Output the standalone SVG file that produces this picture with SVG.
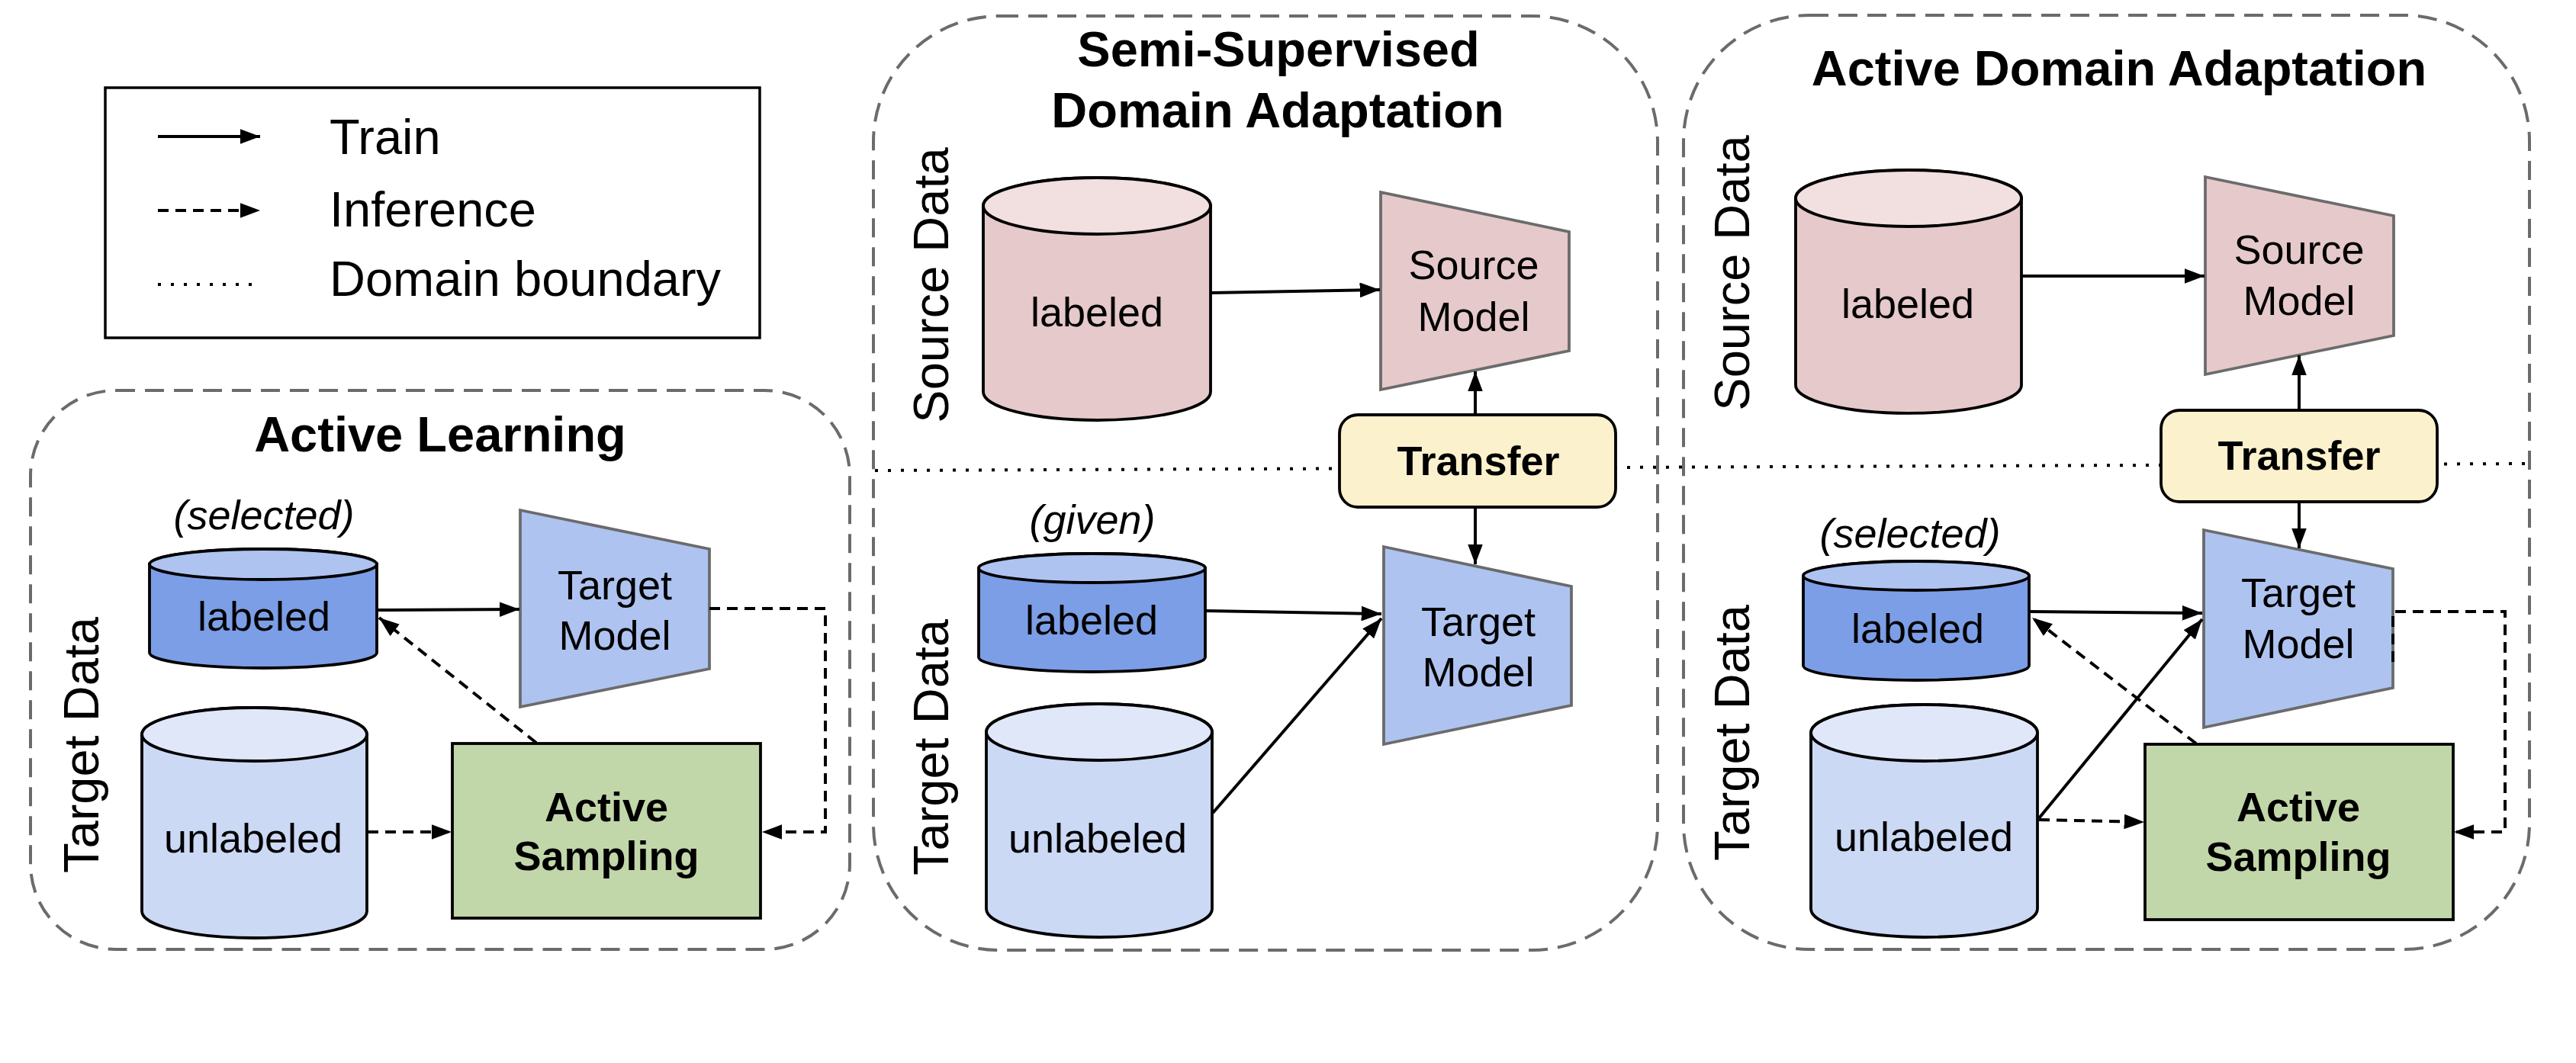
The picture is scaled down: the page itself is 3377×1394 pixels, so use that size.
<svg xmlns="http://www.w3.org/2000/svg" width="3377" height="1394" viewBox="0 0 3377 1394">
<defs>
<marker id="ah" viewBox="0 0 8 6" refX="8" refY="3" markerWidth="6.6" markerHeight="4.95" orient="auto" markerUnits="strokeWidth">
<path d="M0,0 L8,3 L0,6 z" fill="#000"/>
</marker>
</defs>
<style>
text{font-family:"Liberation Sans",Arial,sans-serif;fill:#000}
.t{font-size:54px;text-anchor:middle}
.b{font-size:54px;font-weight:bold;text-anchor:middle}
.i{font-size:54px;font-style:italic;text-anchor:middle}
.h{font-size:65px;font-weight:bold;text-anchor:middle}
.v{font-size:65px;text-anchor:middle}
.lg{font-size:65px}
.grp{fill:none;stroke:#6b6b6b;stroke-width:4;stroke-dasharray:25 13}
.cyl{stroke:#000;stroke-width:3.8}
.trap{stroke:#6b6b6b;stroke-width:3.8}
.box{stroke:#000;stroke-width:3.8}
.solid{fill:none;stroke:#000;stroke-width:4;marker-end:url(#ah)}
.dash{fill:none;stroke:#000;stroke-width:4;stroke-dasharray:14 9;marker-end:url(#ah)}
.dot{fill:none;stroke:#000;stroke-width:4;stroke-dasharray:4 13}
.srcB{fill:#e6c9ca}.srcT{fill:#f2dfe0}
.labB{fill:#7c9ee6}.labT{fill:#aec3f0}
.unlB{fill:#cbd9f5}.unlT{fill:#e0e7f8}
.tm{fill:#aec3f0}.sm{fill:#e6c9ca}
.as{fill:#c2d7a9}.tr{fill:#fcf1cd}
</style>

<g id="legend">
<rect x="138" y="115" width="858" height="328" fill="#fff" stroke="#000" stroke-width="3.5"/>
<line x1="207" y1="179" x2="341" y2="179" class="solid"/>
<line x1="207" y1="276" x2="341" y2="276" class="dash"/>
<line x1="207" y1="373" x2="330" y2="373" class="dot"/>
<text x="432" y="202" class="lg">Train</text>
<text x="432" y="297" class="lg">Inference</text>
<text x="432" y="388" class="lg">Domain boundary</text>
</g>

<g id="group-active-learning">
<rect x="40" y="512" width="1074" height="733" rx="112" ry="112" class="grp"/>
<text x="577" y="592" class="h">Active Learning</text>
<text transform="translate(129,977) rotate(-90)" class="v">Target Data</text>
</g>
<g id="group-ssda">
<rect x="1145" y="21" width="1028" height="1225" rx="165" ry="165" class="grp"/>
<text x="1676" y="87" class="h">Semi-Supervised</text>
<text x="1675" y="167" class="h">Domain Adaptation</text>
<text transform="translate(1243,374) rotate(-90)" class="v">Source Data</text>
<text transform="translate(1243,980) rotate(-90)" class="v">Target Data</text>
</g>
<g id="group-ada">
<rect x="2207" y="20" width="1109" height="1225" rx="165" ry="165" class="grp"/>
<text x="2778" y="112" class="h">Active Domain Adaptation</text>
<text transform="translate(2293,358) rotate(-90)" class="v">Source Data</text>
<text transform="translate(2293,961) rotate(-90)" class="v">Target Data</text>
</g>

<g id="domain-boundary">
<line x1="1147" y1="617" x2="3312" y2="608" class="dot"/>
</g>

<!-- Active Learning nodes -->
<g id="al-labeled">
<text x="346" y="694" class="i">(selected)</text>
<path d="M196,740 V856 A149,20 0 0 0 494,856 V740 A149,20 0 0 0 196,740 Z" class="cyl labB"/>
<ellipse cx="345" cy="740" rx="149" ry="20" class="cyl labT"/>
<text x="346" y="827" class="t">labeled</text>
</g>
<g id="al-unlabeled">
<path d="M186,963 V1195 A147.5,35 0 0 0 481,1195 V963 A147.5,35 0 0 0 186,963 Z" class="cyl unlB"/>
<ellipse cx="333.5" cy="963" rx="147.5" ry="35" class="cyl unlT"/>
<text x="332" y="1118" class="t">unlabeled</text>
</g>
<g id="al-target-model">
<polygon points="682,669 930,720 930,877 682,927" class="trap tm"/>
<text x="806" y="786" class="t">Target</text>
<text x="806" y="852" class="t">Model</text>
</g>
<g id="al-active-sampling">
<rect x="593" y="975" width="404" height="229" class="box as"/>
<text x="795" y="1077" class="b">Active</text>
<text x="795" y="1141" class="b">Sampling</text>
</g>

<!-- SSDA nodes -->
<g id="ssda-source-labeled">
<path d="M1289,270 V514 A149,37 0 0 0 1587,514 V270 A149,37 0 0 0 1289,270 Z" class="cyl srcB"/>
<ellipse cx="1438" cy="270" rx="149" ry="37" class="cyl srcT"/>
<text x="1438" y="428" class="t">labeled</text>
</g>
<g id="ssda-source-model">
<polygon points="1810,252 2057,304 2057,460 1810,511" class="trap sm"/>
<text x="1932" y="366" class="t">Source</text>
<text x="1932" y="434" class="t">Model</text>
</g>
<g id="ssda-transfer">
<rect x="1756" y="544" width="362" height="121" rx="24" ry="24" class="box tr" stroke-width="4.5"/>
<text x="1938" y="623" class="b">Transfer</text>
</g>
<g id="ssda-target-labeled">
<text x="1432" y="700" class="i">(given)</text>
<path d="M1283,745 V862 A148.5,19 0 0 0 1580,862 V745 A148.5,19 0 0 0 1283,745 Z" class="cyl labB"/>
<ellipse cx="1431.5" cy="745" rx="148.5" ry="19" class="cyl labT"/>
<text x="1431" y="832" class="t">labeled</text>
</g>
<g id="ssda-target-unlabeled">
<path d="M1293,960 V1192 A148,37 0 0 0 1589,1192 V960 A148,37 0 0 0 1293,960 Z" class="cyl unlB"/>
<ellipse cx="1441" cy="960" rx="148" ry="37" class="cyl unlT"/>
<text x="1439" y="1118" class="t">unlabeled</text>
</g>
<g id="ssda-target-model">
<polygon points="1814,717 2060,769 2060,925 1814,976" class="trap tm"/>
<text x="1938" y="834" class="t">Target</text>
<text x="1938" y="900" class="t">Model</text>
</g>

<!-- ADA nodes -->
<g id="ada-source-labeled">
<path d="M2354,260 V505 A148,37 0 0 0 2650,505 V260 A148,37 0 0 0 2354,260 Z" class="cyl srcB"/>
<ellipse cx="2502" cy="260" rx="148" ry="37" class="cyl srcT"/>
<text x="2501" y="417" class="t">labeled</text>
</g>
<g id="ada-source-model">
<polygon points="2891,232 3138,283 3138,440 2891,491" class="trap sm"/>
<text x="3014" y="346" class="t">Source</text>
<text x="3014" y="413" class="t">Model</text>
</g>
<g id="ada-transfer">
<rect x="2833" y="538" width="362" height="120" rx="24" ry="24" class="box tr" stroke-width="4.5"/>
<text x="3014" y="616" class="b">Transfer</text>
</g>
<g id="ada-target-labeled">
<text x="2504" y="718" class="i">(selected)</text>
<path d="M2364,755 V873 A148,19 0 0 0 2660,873 V755 A148,19 0 0 0 2364,755 Z" class="cyl labB"/>
<ellipse cx="2512" cy="755" rx="148" ry="19" class="cyl labT"/>
<text x="2514" y="843" class="t">labeled</text>
</g>
<g id="ada-target-unlabeled">
<path d="M2374,961 V1192 A148.5,37 0 0 0 2671,1192 V961 A148.5,37 0 0 0 2374,961 Z" class="cyl unlB"/>
<ellipse cx="2522.5" cy="961" rx="148.5" ry="37" class="cyl unlT"/>
<text x="2522" y="1116" class="t">unlabeled</text>
</g>
<g id="ada-target-model">
<polygon points="2889,695 3137,746 3137,902 2889,954" class="trap tm"/>
<text x="3013" y="796" class="t">Target</text>
<text x="3013" y="863" class="t">Model</text>
</g>
<g id="ada-active-sampling">
<rect x="2812" y="976" width="404" height="230" class="box as"/>
<text x="3013" y="1077" class="b">Active</text>
<text x="3013" y="1142" class="b">Sampling</text>
</g>

<g id="connectors">
<!-- Active Learning -->
<line x1="495" y1="800" x2="681" y2="799" class="solid"/>
<path d="M930,798 H1082 V1091 H999" class="dash"/>
<line x1="482" y1="1091" x2="592" y2="1091" class="dash"/>
<line x1="703" y1="974" x2="497" y2="810" class="dash"/>
<!-- SSDA -->
<line x1="1588" y1="384" x2="1809" y2="380" class="solid"/>
<line x1="1934" y1="543" x2="1934" y2="487" class="solid"/>
<line x1="1934" y1="666" x2="1934" y2="740" class="solid"/>
<line x1="1581" y1="801" x2="1811" y2="805" class="solid"/>
<line x1="1590" y1="1066" x2="1811" y2="811" class="solid"/>
<!-- ADA -->
<line x1="2651" y1="362" x2="2890" y2="362" class="solid"/>
<line x1="3014" y1="537" x2="3014" y2="466" class="solid"/>
<line x1="3014" y1="659" x2="3014" y2="719" class="solid"/>
<line x1="2661" y1="802" x2="2887" y2="804" class="solid"/>
<line x1="2673" y1="1073" x2="2887" y2="812" class="solid"/>
<line x1="2673" y1="1075" x2="2811" y2="1078" class="dash"/>
<line x1="2879" y1="975" x2="2664" y2="810" class="dash"/>
<path d="M3137,868 V802 H3284 V1091 H3217" class="dash"/>
</g>
</svg>
